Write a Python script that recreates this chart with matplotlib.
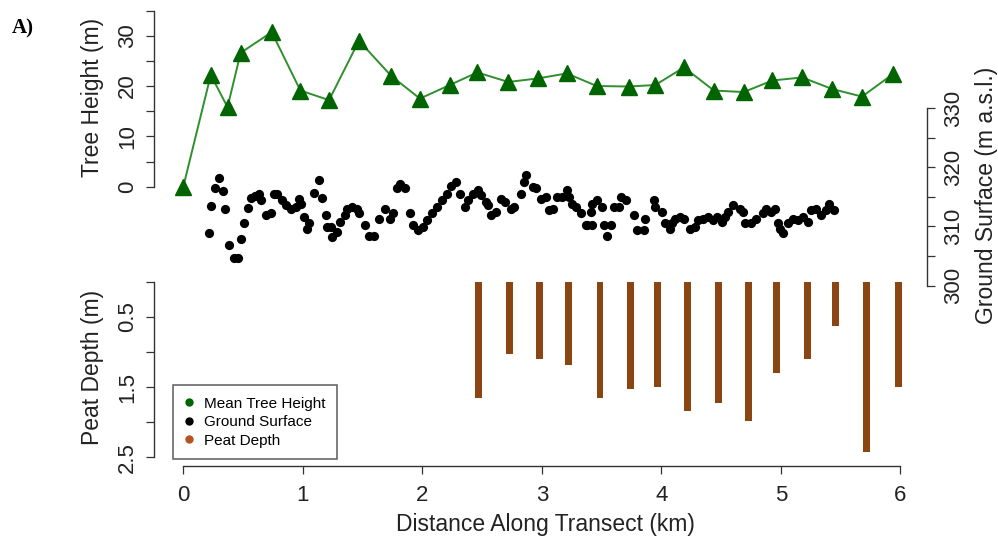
import matplotlib
matplotlib.use("Agg")
import matplotlib.pyplot as plt
from matplotlib.lines import Line2D

plt.rcParams['font.family'] = ['Liberation Sans', 'DejaVu Sans']

# ---------------- data ----------------
tree_km = [0.0, 0.23, 0.37, 0.48, 0.74, 0.98, 1.22, 1.47, 1.74, 1.98, 2.23, 2.46,
           2.72, 2.965, 3.21, 3.46, 3.73, 3.95, 4.19, 4.44, 4.69, 4.93, 5.18, 5.43,
           5.68, 5.94]
tree_height = [0.0, 22.2, 15.8, 26.6, 30.7, 19.1, 17.2, 29.0, 22.0, 17.5, 20.2, 22.7,
               20.8, 21.5, 22.5, 20.0, 19.9, 20.2, 23.7, 19.1, 18.8, 21.1, 21.7, 19.4,
               17.9, 22.4]

ground_km = [0.214, 0.233, 0.269, 0.302, 0.330, 0.352, 0.385, 0.427, 0.455, 0.483,
             0.510, 0.538, 0.566, 0.600, 0.635, 0.649, 0.691, 0.732, 0.760, 0.788,
             0.830, 0.857, 0.899, 0.940, 0.968, 0.982, 1.009, 1.038, 1.051, 1.093,
             1.134, 1.163, 1.190, 1.204, 1.232, 1.246, 1.287, 1.315, 1.356, 1.371,
             1.412, 1.454, 1.467, 1.523, 1.550, 1.592, 1.634, 1.689, 1.731, 1.758,
             1.787, 1.814, 1.856, 1.897, 1.925, 1.966, 2.008, 2.036, 2.078, 2.119,
             2.161, 2.203, 2.244, 2.286, 2.313, 2.355, 2.383, 2.424, 2.466, 2.494,
             2.536, 2.549, 2.577, 2.619, 2.660, 2.688, 2.744, 2.771, 2.827, 2.854,
             2.868, 2.923, 2.952, 2.993, 3.035, 3.062, 3.090, 3.131, 3.173, 3.215,
             3.229, 3.256, 3.284, 3.326, 3.368, 3.381, 3.409, 3.423, 3.423, 3.464,
             3.506, 3.520, 3.548, 3.576, 3.603, 3.645, 3.659, 3.701, 3.770, 3.797,
             3.853, 3.867, 3.936, 3.950, 4.005, 4.033, 4.075, 4.088, 4.116, 4.158,
             4.186, 4.241, 4.283, 4.311, 4.352, 4.394, 4.435, 4.463, 4.505, 4.533,
             4.560, 4.602, 4.658, 4.685, 4.699, 4.754, 4.796, 4.852, 4.879, 4.921,
             4.949, 4.977, 4.990, 5.018, 5.060, 5.101, 5.143, 5.184, 5.226, 5.253,
             5.295, 5.337, 5.378, 5.406, 5.448]
ground_elev = [308.9, 313.4, 316.4, 318.2, 315.9, 312.9, 306.8, 304.6, 304.6, 307.8,
               310.5, 313.1, 314.8, 315.2, 315.4, 314.4, 312.0, 312.3, 315.4, 315.4,
               314.4, 313.6, 313.0, 313.3, 314.7, 313.7, 311.6, 309.6, 310.5, 315.7,
               317.8, 314.8, 311.9, 309.9, 309.9, 308.2, 309.0, 310.7, 311.9, 313.0,
               313.3, 313.0, 312.2, 310.3, 308.4, 308.4, 311.3, 313.0, 311.3, 312.2,
               316.4, 317.2, 316.4, 312.2, 310.2, 309.3, 309.9, 311.0, 312.2, 313.3,
               314.4, 315.5, 316.9, 317.5, 315.5, 313.3, 314.4, 315.5, 316.1, 315.3,
               314.1, 313.6, 311.9, 312.4, 314.7, 314.1, 313.0, 313.3, 315.5, 317.5,
               318.6, 316.7, 316.4, 314.7, 315.0, 312.7, 313.0, 315.0, 315.0, 316.1,
               315.0, 313.8, 313.3, 312.2, 310.2, 310.2, 312.4, 313.8, 310.2, 314.4,
               313.3, 310.2, 308.4, 310.2, 313.3, 313.3, 315.0, 314.4, 311.9, 309.3,
               309.3, 311.3, 314.4, 313.3, 312.4, 310.5, 309.6, 310.5, 311.3, 311.6,
               311.3, 309.6, 309.9, 311.0, 311.3, 311.6, 311.0, 311.6, 310.7, 311.6,
               312.4, 313.6, 313.0, 312.4, 310.5, 310.5, 311.3, 312.2, 313.0, 312.4,
               313.0, 310.5, 309.6, 308.8, 310.5, 311.3, 311.0, 311.6, 310.7, 312.7,
               313.0, 311.9, 312.7, 313.8, 312.7]

peat_km = [2.469, 2.728, 2.977, 3.225, 3.487, 3.744, 3.967, 4.218, 4.480, 4.726,
           4.966, 5.225, 5.459, 5.719, 5.983]
peat_depth = [1.65, 1.03, 1.10, 1.18, 1.66, 1.53, 1.50, 1.84, 1.72, 1.98,
              1.30, 1.10, 0.63, 2.43, 1.50]

x_ticks = [0, 1, 2, 3, 4, 5, 6]
tree_ticks = [0, 5, 10, 15, 20, 25, 30, 35]
tree_labels = ['0', '', '10', '', '20', '', '30', '']
ground_ticks = [300, 305, 310, 315, 320, 325, 330]
ground_labels = ['300', '', '310', '', '320', '', '330']
peat_ticks = [0, 0.5, 1.0, 1.5, 2.0, 2.5]
peat_labels = ['', '0.5', '', '1.5', '', '2.5']
legend_labels = ['Mean Tree Height', 'Ground Surface', 'Peat Depth']

# ---------------- styling ----------------
W, H = 998, 540
fig = plt.figure(figsize=(W / 100, H / 100), dpi=100)
L, R, T, B = 154, 926.7, 10, 466
rect = [L / W, 1 - B / H, (R - L) / W, (B - T) / H]

axc = '#333333'
green_line = '#2f8f2f'
green_mark = '#006400'
brown = '#8B4513'
tick_fs = 16
lab_fs = 16.5

ax_tree = fig.add_axes(rect)
ax_ground = fig.add_axes(rect, sharex=ax_tree)
ax_peat = fig.add_axes(rect, sharex=ax_tree)
for a in (ax_tree, ax_ground, ax_peat):
    a.patch.set_alpha(0)
    for s in a.spines.values():
        s.set_visible(False)
        s.set_color(axc)
        s.set_linewidth(1.0)
    a.tick_params(colors=axc, labelcolor='#222222', length=5.5, width=0.9,
                  labelsize=tick_fs)

xlim = ((L - 183.3) / 119.5, (R - 183.3) / 119.5)
ax_tree.set_xlim(*xlim)

# tree height
ax_tree.plot(tree_km, tree_height, color=green_line, lw=1.4, zorder=2)
ax_tree.plot(tree_km, tree_height, ls='none', marker='^', ms=11,
             mfc=green_mark, mec=green_mark, zorder=3)
ax_tree.set_ylim(-55.49, 35.1)
ax_tree.spines['left'].set_visible(True)
ax_tree.spines['left'].set_bounds(0, 35)
ax_tree.spines['bottom'].set_visible(True)
ax_tree.spines['bottom'].set_bounds(0, 6)
ax_tree.set_yticks(tree_ticks)
ax_tree.set_yticklabels(tree_labels, rotation=90, va='center')
ax_tree.set_xticks(x_ticks)
ax_tree.set_xticklabels([str(v) for v in x_ticks])
ax_tree.tick_params(axis='y', pad=6)
ax_tree.tick_params(axis='x', pad=8)

# ground surface
ax_ground.scatter(ground_km, ground_elev, s=44, color='black', zorder=3,
                  linewidths=0)
ax_ground.set_ylim(269.5, 346.56)
ax_ground.spines['right'].set_visible(True)
ax_ground.spines['right'].set_bounds(300, 330)
ax_ground.yaxis.tick_right()
ax_ground.set_yticks(ground_ticks)
ax_ground.set_yticklabels(ground_labels, rotation=90, va='center')
ax_ground.tick_params(axis='y', pad=6)
ax_ground.tick_params(axis='x', bottom=False, labelbottom=False)

# peat depth
ax_peat.bar(peat_km, peat_depth, width=0.058, bottom=0, color=brown, zorder=2)
ax_peat.set_ylim(2.624, -3.868)
ax_peat.spines['left'].set_visible(True)
ax_peat.spines['left'].set_bounds(0, 2.5)
ax_peat.set_yticks(peat_ticks)
ax_peat.set_yticklabels(peat_labels, rotation=90, va='center')
ax_peat.tick_params(axis='y', pad=6)
ax_peat.tick_params(axis='x', bottom=False, labelbottom=False)

# axis labels
fig.text(92 / W, 1 - 97.5 / H, 'Tree Height (m)', rotation=90, ha='center',
         va='center', fontsize=lab_fs, color='#222222')
fig.text(92 / W, 1 - 367 / H, 'Peat Depth (m)', rotation=90, ha='center',
         va='center', fontsize=lab_fs, color='#222222')
fig.text(986 / W, 1 - 195 / H, 'Ground Surface (m a.s.l.)', rotation=90,
         ha='center', va='center', fontsize=lab_fs, color='#222222')
fig.text(545 / W, 1 - 524 / H, 'Distance Along Transect (km)', ha='center',
         va='center', fontsize=lab_fs, color='#222222')
fig.text(12 / W, 1 - 28 / H, 'A)', ha='left', va='center', fontsize=15,
         fontweight='bold', family=['Liberation Serif', 'DejaVu Serif'])

# legend
handles = [Line2D([], [], ls='none', marker='o', ms=5, mfc=c, mec=c)
           for c in (green_mark, 'black', '#b5541f')]
leg = ax_peat.legend(handles, legend_labels, loc='lower left',
                     bbox_to_anchor=(172.7 / W, 1 - 459.3 / H),
                     bbox_transform=fig.transFigure, borderaxespad=0,
                     fontsize=11, frameon=True, fancybox=False,
                     handlelength=0.6, handletextpad=0.7, labelspacing=0.3,
                     borderpad=0.75)
leg.get_frame().set_edgecolor(axc)
leg.get_frame().set_linewidth(1.1)
leg.get_frame().set_facecolor('white')

fig.savefig('out.png', dpi=100)
